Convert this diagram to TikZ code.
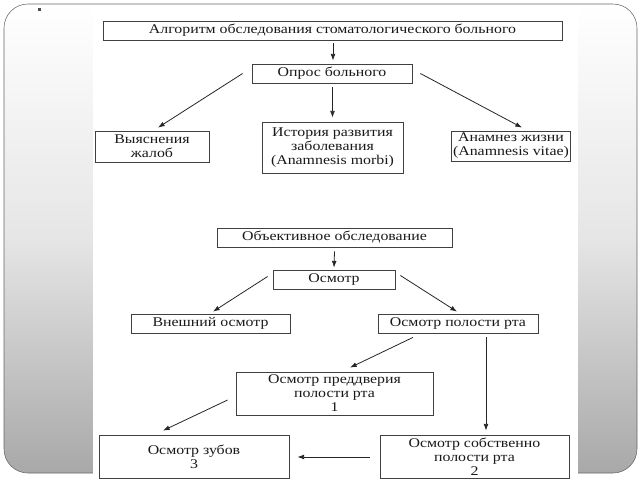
\documentclass[tikz,border=0pt]{standalone}
\usepackage{fontspec}
\setmainfont[FakeStretch=1.19]{Liberation Serif}
\usetikzlibrary{arrows.meta,calc}

\begin{document}
\begin{tikzpicture}[x=0.75pt,y=-0.75pt,
  box/.style={draw=black!75,line width=0.6pt,fill=white,align=center,inner sep=1pt,
    font=\fontsize{10}{10.5}\selectfont,text=black!90},
  arr/.style={draw=black!85,line width=0.6pt,-{Latex[length=5pt,width=3.6pt]}}]
\useasboundingbox (0,0) rectangle (640,480);
% slide frame (unflipped y for the shading)
\begin{scope}[y=0.75pt,yshift=-360pt]
\draw[draw=black!60,top color=white,bottom color=black!34,middle color=black!10,rounded corners=18pt] (4,7) rectangle (637,476);
\end{scope}
\fill[white] (93,5) rectangle (578,480);
\fill[black!70] (38,8) rectangle (40.5,10.5);

% anamnesis
\node[box,minimum width=344.25pt,minimum height=14.25pt] (algo) at (332.5,30.5) {Алгоритм обследования стоматологического больного};
\node[box,minimum width=120pt,minimum height=14.25pt] (opros) at (332,73.5) {Опрос больного};
\node[box,minimum width=85.5pt,minimum height=23.25pt] (vyyas) at (152,146.5) {Выяснения\\жалоб};
\node[box,minimum width=105.75pt,minimum height=38.25pt] (hist) at (332.5,147.5) {История развития\\заболевания\\(Anamnesis morbi)};
\node[box,minimum width=88.5pt,minimum height=22.5pt] (anam) at (511,146) {Анамнез жизни\\(Anamnesis vitae)};

% examination
\node[box,minimum width=176.25pt,minimum height=14.25pt] (obj) at (334.5,237.5) {Объективное обследование};
\node[box,minimum width=91.5pt,minimum height=14.25pt] (osm) at (334,279.5) {Осмотр};
\node[box,minimum width=119.25pt,minimum height=14.25pt] (ext) at (210.5,323.5) {Внешний осмотр};
\node[box,minimum width=120pt,minimum height=14.25pt] (oral) at (458,323.5) {Осмотр полости рта};
\node[box,minimum width=147.75pt,minimum height=32.25pt] (vest) at (334.5,393.5) {Осмотр преддверия\\полости рта\\1};
\node[box,minimum width=142.5pt,minimum height=32.25pt] (teeth) at (194,456.5) {Осмотр зубов\\3};
\node[box,minimum width=141.75pt,minimum height=32.25pt] (prop) at (474.5,456.5) {Осмотр собственно\\полости рта\\2};

\draw[arr] ($(algo.south)+(0.5,3)$) -- ($(opros.north)+(1,-3)$);
\draw[arr] ($(opros.west)+(-9,0)$) -- ($(vyyas.north)+(6,-3)$);
\draw[arr] ($(opros.south)+(0.5,4)$) -- ($(hist.north)+(0,-4)$);
\draw[arr] ($(opros.east)+(8,0)$) -- ($(anam.north)+(11,-3)$);
\draw[arr] ($(obj.south)+(0,4)$) -- ($(osm.north)+(0,-2)$);
\draw[arr] ($(osm.west)+(-5,-3)$) -- ($(ext.north)+(2.5,-2)$);
\draw[arr] ($(osm.east)+(5,-4)$) -- ($(oral.north)+(-1,-2)$);
\draw[arr] ($(oral.south)+(-45,4)$) -- ($(vest.north)+(15.5,-4)$);
\draw[arr] ($(oral.south)+(28,4)$) -- ($(prop.north)+(11.5,-4)$);
\draw[arr] ($(vest.west)+(-8,6.5)$) -- ($(teeth.north)+(-31,-4)$);
\draw[arr] ($(prop.west)+(-10,0.5)$) -- ($(teeth.east)+(8,0.5)$);
\end{tikzpicture}
\end{document}
